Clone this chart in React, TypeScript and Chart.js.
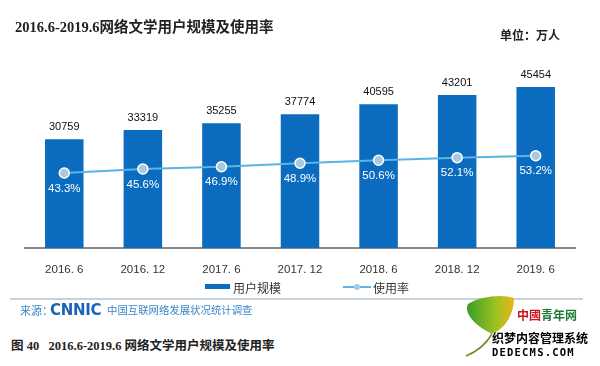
import React, { useEffect, useRef } from "react";
import { Chart, registerables } from "chart.js";

Chart.register(...registerables);

const categories = ["2016. 6", "2016. 12", "2017. 6", "2017. 12", "2018. 6", "2018. 12", "2019. 6"];
const userScale = [30759, 33319, 35255, 37774, 40595, 43201, 45454];
const usageRate = [43.3, 45.6, 46.9, 48.9, 50.6, 52.1, 53.2];

const BAR = "#0b6cbf";
const LINE = "#5ab4e5";
const CJK = '"Noto Sans CJK SC", "Noto Sans", sans-serif';
const SERIF = '"Liberation Serif", "DejaVu Serif", "Noto Sans CJK SC", serif';

const labelPlugin = {
  id: "valueLabels",
  afterDatasetsDraw(chart: any) {
    const ctx = chart.ctx;
    ctx.save();
    ctx.textAlign = "center";
    ctx.textBaseline = "middle";
    const bars = chart.getDatasetMeta(0);
    ctx.font = '11px "Liberation Sans", Arial, sans-serif';
    ctx.fillStyle = "#111";
    bars.data.forEach((el: any, i: number) => {
      ctx.fillText(String(userScale[i]), el.x, el.y - 12);
    });
    const pts = chart.getDatasetMeta(1);
    ctx.font = '11.5px "Liberation Sans", Arial, sans-serif';
    ctx.fillStyle = "#ffffff";
    pts.data.forEach((el: any, i: number) => {
      ctx.fillText(usageRate[i].toFixed(1) + "%", el.x, el.y + 15.5);
    });
    ctx.restore();
  },
};

export default function App() {
  const ref = useRef<HTMLCanvasElement>(null);
  useEffect(() => {
    if (!ref.current) return;
    const chart = new Chart(ref.current, {
      data: {
        labels: categories,
        datasets: [
          {
            type: "bar",
            label: "用户规模",
            data: userScale,
            backgroundColor: BAR,
            yAxisID: "y",
            order: 2,
            categoryPercentage: 1,
            barPercentage: 0.49,
          },
          {
            type: "line",
            label: "使用率",
            data: usageRate,
            borderColor: LINE,
            borderWidth: 2,
            pointRadius: 5,
            pointBackgroundColor: "#a9c8e2",
            pointBorderColor: "#ffffff",
            pointBorderWidth: 1.5,
            yAxisID: "y1",
            order: 1,
          },
        ] as any,
      },
      options: {
        animation: false,
        responsive: false,
        maintainAspectRatio: false,
        layout: { padding: { left: 25, right: 25, top: 71, bottom: 3 } },
        plugins: { legend: { display: false }, tooltip: { enabled: false } },
        scales: {
          x: {
            offset: true,
            grid: { display: false, drawTicks: false },
            border: { display: true, color: "#8a8a8a", width: 2 },
            ticks: {
              color: "#333",
              padding: 15,
              font: { size: 11.5, family: '"Liberation Sans", Arial, sans-serif' },
            },
          },
          y: { display: false, min: 0, max: 50000 },
          y1: { display: false, min: 0, max: 102 },
        },
      },
      plugins: [labelPlugin],
    });
    return () => chart.destroy();
  }, []);

  const abs = (s: any) => ({ position: "absolute", whiteSpace: "nowrap", ...s } as React.CSSProperties);

  return (
    <div style={{ position: "fixed", left: 0, top: 0, width: 600, height: 366, background: "#fff", overflow: "hidden" }}>
      <canvas ref={ref} width={600} height={295} style={{ position: "absolute", left: 0, top: 0 }} />
      <div style={abs({ left: 15, top: 18, font: `bold 14.5px ${SERIF}`, color: "#222", lineHeight: "18px" })}>
        2016.6-2019.6网络文学用户规模及使用率
      </div>
      <div style={abs({ left: 500, top: 27, font: `bold 12px ${CJK}`, color: "#222", lineHeight: "16px" })}>
        单位：万人
      </div>
      {/* legend */}
      <div style={abs({ left: 205, top: 284, width: 25, height: 5, background: BAR })} />
      <div style={abs({ left: 233, top: 280, font: `12px ${CJK}`, color: "#333", lineHeight: "16px" })}>用户规模</div>
      <div style={abs({ left: 343, top: 286, width: 28, height: 2, background: LINE })} />
      <div style={abs({ left: 354, top: 284, width: 6, height: 6, borderRadius: 3, background: "#a9c8e2" })} />
      <div style={abs({ left: 373, top: 280, font: `12px ${CJK}`, color: "#333", lineHeight: "16px" })}>使用率</div>
      {/* separator */}
      <div style={abs({ left: 10, top: 298, width: 573, height: 2, background: "#c9d1dc" })} />
      {/* source */}
      <div style={abs({ left: 20, top: 302, font: `11px ${CJK}`, color: "#3a86cc", lineHeight: "16px" })}>来源：</div>
      <div style={abs({ left: 50, top: 300, font: `bold 15px "DejaVu Sans", sans-serif`, color: "#1a64b8", lineHeight: "20px", letterSpacing: -0.3 })}>
        CNNIC
      </div>
      <div style={abs({ left: 107, top: 303, font: `10.4px ${CJK}`, color: "#3a86cc", lineHeight: "14px" })}>
        中国互联网络发展状况统计调查
      </div>
      {/* caption */}
      <div style={abs({ left: 11, top: 338, font: `bold 12.5px ${SERIF}`, color: "#222", lineHeight: "16px" })}>
        图 40&nbsp;&nbsp;&nbsp;2016.6-2019.6 网络文学用户规模及使用率
      </div>
      {/* watermark logo */}
      <svg width={60} height={66} style={{ position: "absolute", left: 462, top: 294 }} viewBox="0 0 60 66">
        <defs>
          <linearGradient id="lg" x1="0" y1="0" x2="1" y2="0">
            <stop offset="0" stopColor="#3a9c2a" />
            <stop offset="0.6" stopColor="#9cc21f" />
            <stop offset="1" stopColor="#e8b51a" />
          </linearGradient>
        </defs>
        <path d="M30 40 C10 30 2 18 6 10 C18 2 40 0 52 4 C52 20 44 34 30 40 Z" fill="url(#lg)" />
        <path d="M30 40 C24 50 14 58 4 62" stroke="#6b8e23" strokeWidth={1.5} fill="none" />
      </svg>
      <div style={abs({ left: 517, top: 307, font: `bold 12px ${CJK}`, color: "#c8161d", lineHeight: "16px" })}>
        中國<span style={{ color: "#1f7a3a" }}>青年网</span>
      </div>
      <div style={abs({ left: 492, top: 330, font: `bold 12px ${CJK}`, color: "#000", lineHeight: "16px", textShadow: "0 0 2px #fff, 0 0 2px #fff" })}>
        织梦内容管理系统
      </div>
      <div style={abs({ left: 492, top: 345, font: `bold 10.5px "DejaVu Sans Mono", monospace`, color: "#000", lineHeight: "14px", letterSpacing: 1.2 })}>
        DEDECMS.COM
      </div>
    </div>
  );
}
